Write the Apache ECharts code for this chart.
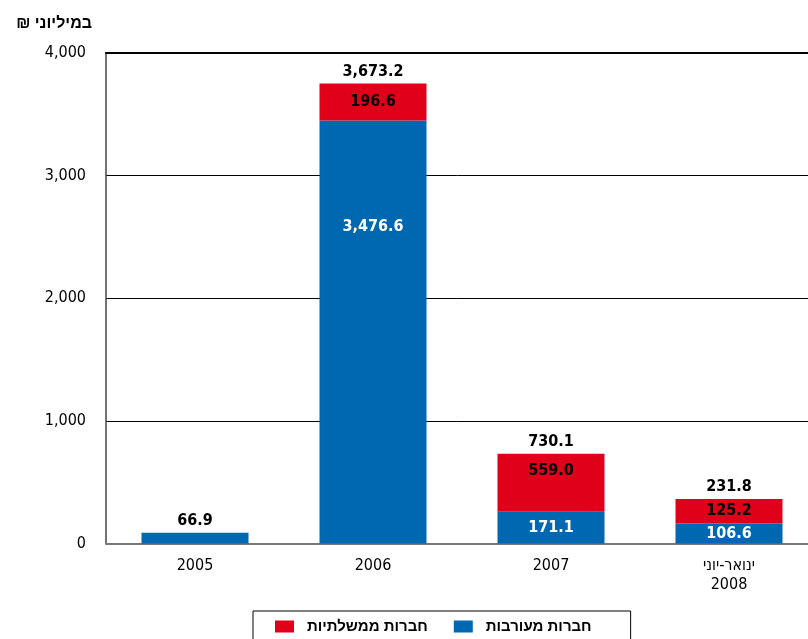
<!DOCTYPE html>
<html>
<head>
<meta charset="utf-8">
<script src="https://cdn.jsdelivr.net/npm/echarts@6/dist/echarts.min.js"></script>
<style>
html,body{margin:0;padding:0;background:#fff;}
#chart{width:808px;height:639px;}
</style>
</head>
<body>
<div id="chart"></div>
<script>
// Categories (x axis)
const categories = ['2005', '2006', '2007', 'ינואר-יוני\n2008'];
// Bar heights as drawn in the picture (millions ₪)
const mixedValues = [87, 3450, 258, 163];           // חברות מעורבות (blue)
const governmentValues = [null, 302, 473, 199];     // חברות ממשלתיות (red)
// Printed value labels
const mixedLabels = ['', '3,476.6', '171.1', '106.6'];
const governmentLabels = ['', '196.6', '559.0', '125.2'];
const totalLabels = ['66.9', '3,673.2', '730.1', '231.8'];
const totalBase = [0, 0, 0, 0];
// Y axis ticks
const yMin = 0, yMax = 4000, yInterval = 1000;

const seriesNames = ['חברות מעורבות', 'חברות ממשלתיות'];
const BLUE = '#0067b1', RED = '#e1001a';
const NUM_FONT = 'DejaVu Sans Condensed, DejaVu Sans, sans-serif';
const HEB_FONT = 'Liberation Sans, DejaVu Sans, sans-serif';

// label placement overrides (styling, not data)
const mixedPlace = {1: {position: 'insideTop', distance: 98}};
const govPlace = {2: {position: 'insideTop', distance: 9}};

const chart = echarts.init(document.getElementById('chart'), null, {renderer: 'canvas'});
const option = {
  animation: false,
  backgroundColor: '#fff',
  grid: {left: 106, width: 712, top: 53, bottom: 95.5, containLabel: false, outerBoundsMode: 'none'},
  legend: {
    data: [seriesNames[1], seriesNames[0]],
    left: 253, top: 611,
    orient: 'horizontal',
    borderColor: '#000', borderWidth: 1,
    padding: [8, 39, 8, 22],
    itemWidth: 19, itemHeight: 12, itemGap: 26,
    icon: 'rect',
    textStyle: {fontFamily: HEB_FONT, fontWeight: 'bold', fontSize: 15, color: '#000', padding: [0, 0, 0, 8]}
  },
  xAxis: [{
    type: 'category',
    data: categories,
    axisTick: {show: false},
    axisLine: {show: true, lineStyle: {color: '#777', width: 2}},
    axisLabel: {fontFamily: NUM_FONT, fontSize: 16, color: '#000', margin: 13, lineHeight: 19}
  }, {
    type: 'category', position: 'top',
    data: categories,
    axisTick: {show: false}, axisLabel: {show: false},
    axisLine: {show: true, lineStyle: {color: '#000', width: 2}}
  }],
  yAxis: {
    type: 'value',
    min: yMin, max: yMax, interval: yInterval,
    name: '₪ במיליוני',
    nameLocation: 'end',
    nameGap: 29,
    nameTextStyle: {fontFamily: HEB_FONT, fontWeight: 'bold', fontSize: 16, color: '#000', align: 'right', verticalAlign: 'middle', padding: [0, 14, 0, 0]},
    axisLine: {show: true, lineStyle: {color: '#444', width: 1.5}},
    axisTick: {show: false},
    splitLine: {show: true, lineStyle: {color: '#000', width: 1}},
    axisLabel: {fontFamily: NUM_FONT, fontSize: 16, color: '#000', margin: 20,
      formatter: v => v.toLocaleString('en-US')}
  },
  series: [
    {
      name: seriesNames[0], type: 'bar', stack: 'total', barWidth: 107,
      itemStyle: {color: BLUE},
      data: mixedValues.map((v, i) => Object.assign({value: v}, mixedPlace[i] ? {label: mixedPlace[i]} : {})),
      label: {show: true, position: 'inside', color: '#fff', fontFamily: NUM_FONT, fontWeight: 'bold', fontSize: 16,
        formatter: p => mixedLabels[p.dataIndex]}
    },
    {
      name: seriesNames[1], type: 'bar', stack: 'total', barWidth: 107,
      itemStyle: {color: RED},
      data: governmentValues.map((v, i) => Object.assign({value: v === null ? '-' : v}, govPlace[i] ? {label: govPlace[i]} : {})),
      label: {show: true, position: 'inside', color: '#000', fontFamily: NUM_FONT, fontWeight: 'bold', fontSize: 16,
        formatter: p => governmentLabels[p.dataIndex]}
    },
    {
      name: 'total', type: 'bar', stack: 'total', barWidth: 107, silent: true,
      itemStyle: {color: 'transparent'},
      data: totalBase,
      label: {show: true, position: 'top', distance: 4, color: '#000', fontFamily: NUM_FONT, fontWeight: 'bold', fontSize: 16,
        formatter: p => totalLabels[p.dataIndex]}
    }
  ]
};
chart.setOption(option);
</script>
</body>
</html>
